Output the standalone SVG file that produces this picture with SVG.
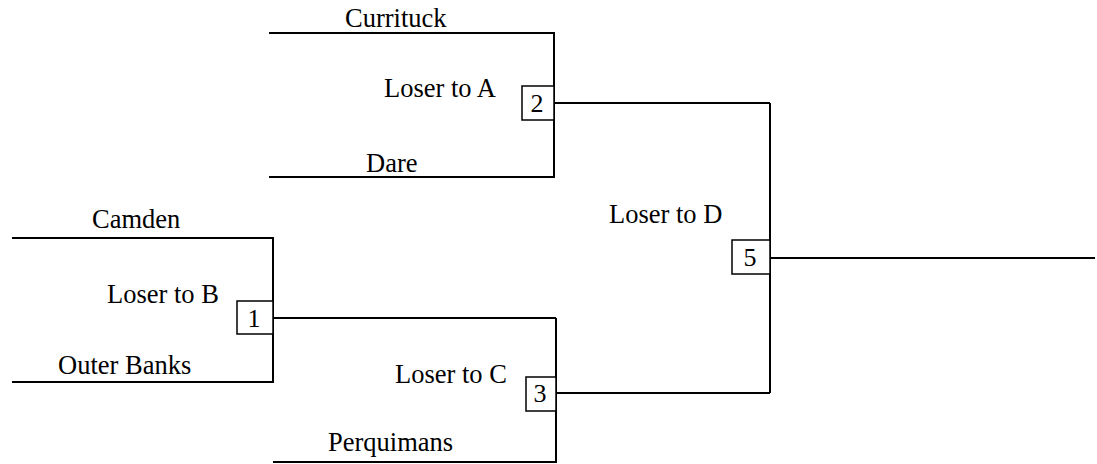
<svg xmlns="http://www.w3.org/2000/svg" width="1097" height="464" viewBox="0 0 1097 464">
<style>
.ln{stroke:#000;stroke-width:2;fill:none}
.bx{stroke:#000;stroke-width:1.5;fill:#fff}
text{font-family:"Liberation Serif","Times New Roman",serif;font-size:26.5px;fill:#000}
.n{text-anchor:middle;font-size:26px}
</style>
<rect width="1097" height="464" fill="#fff"/>
<g id="connectors">
<polyline class="ln" points="269,33 554,33 554,177 269,177"/>
<line class="ln" x1="554" y1="103" x2="770" y2="103"/>
<polyline class="ln" points="12,238 273,238 273,382 12,382"/>
<line class="ln" x1="273" y1="318" x2="556" y2="318"/>
<polyline class="ln" points="556,318 556,462 273,462"/>
<line class="ln" x1="556" y1="393" x2="770" y2="393"/>
<line class="ln" x1="770" y1="103" x2="770" y2="393"/>
<line class="ln" x1="770" y1="258" x2="1095" y2="258"/>
</g>
<g id="labels">
<text x="345" y="27">Currituck</text>
<text x="384" y="97">Loser to A</text>
<text x="366" y="172">Dare</text>
<text x="92" y="228">Camden</text>
<text x="107" y="303">Loser to B</text>
<text x="58" y="374">Outer Banks</text>
<text x="395" y="383">Loser to C</text>
<text x="328" y="451">Perquimans</text>
<text x="609" y="223">Loser to D</text>
</g>
<g id="game2"><rect class="bx" x="522" y="86" width="32" height="34"/><text class="n" x="537" y="112">2</text></g>
<g id="game1"><rect class="bx" x="237" y="301" width="36" height="33"/><text class="n" x="254" y="327">1</text></g>
<g id="game3"><rect class="bx" x="526" y="377" width="30" height="34"/><text class="n" x="540" y="402">3</text></g>
<g id="game5"><rect class="bx" x="732" y="240" width="38" height="34"/><text class="n" x="750" y="266">5</text></g>
</svg>
